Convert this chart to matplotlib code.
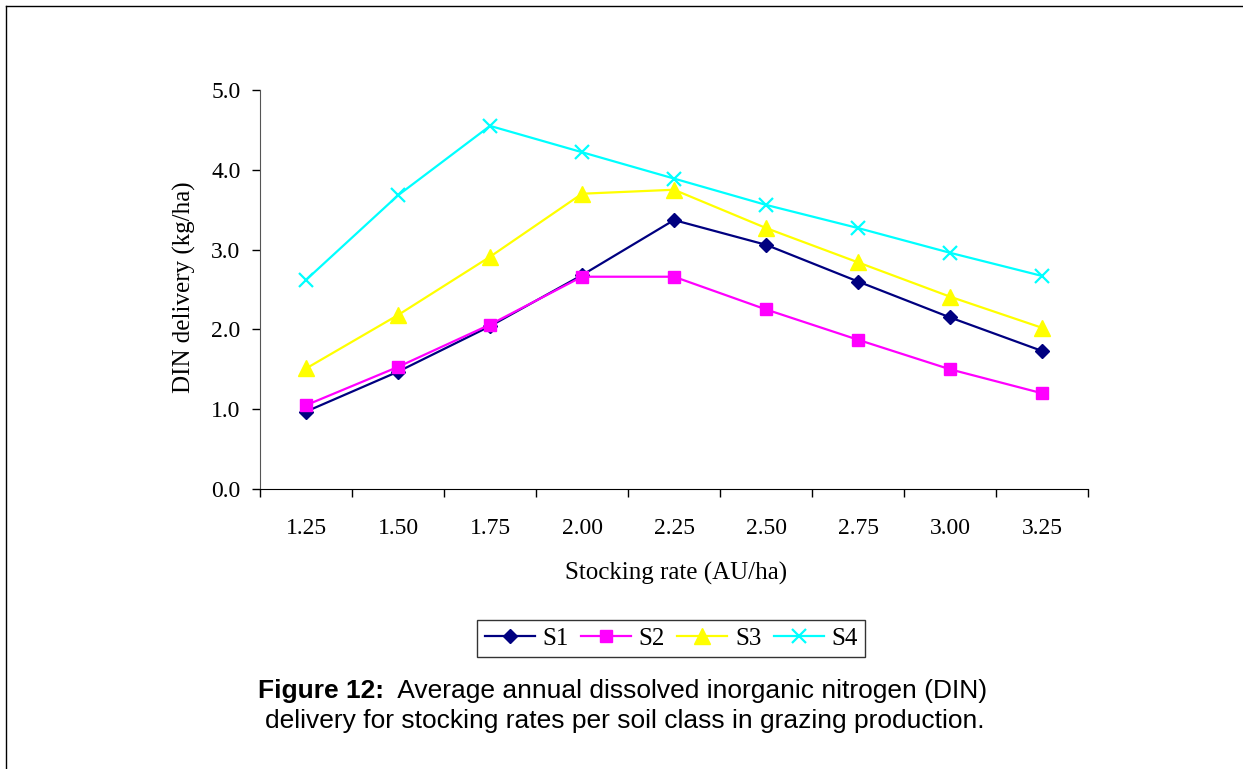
import matplotlib
matplotlib.use("Agg")
import matplotlib.pyplot as plt
from matplotlib.lines import Line2D

# Stocking rate categories and DIN delivery (kg/ha) per soil class
rates = ["1.25", "1.50", "1.75", "2.00", "2.25", "2.50", "2.75", "3.00", "3.25"]
s1 = [0.97, 1.47, 2.04, 2.68, 3.37, 3.06, 2.60, 2.15, 1.73]
s2 = [1.05, 1.53, 2.06, 2.66, 2.66, 2.25, 1.87, 1.50, 1.20]
s3 = [1.51, 2.18, 2.91, 3.70, 3.75, 3.27, 2.84, 2.41, 2.02]
s4 = [2.62, 3.68, 4.55, 4.22, 3.89, 3.56, 3.27, 2.96, 2.67]
yticks = [0.0, 1.0, 2.0, 3.0, 4.0, 5.0]

SERIF = "Liberation Serif"
SANS = "Liberation Sans"

fig = plt.figure(figsize=(12.43, 7.69), dpi=100)
ax = fig.add_axes([0.2092, 0.3641, 0.8753 - 0.2092, 0.8830 - 0.3641])

x = list(range(len(rates)))
ax.plot(x, s1, color="#000080", marker="D", markersize=7.5, linewidth=1.6, label="S1")
ax.plot(x, s2, color="#FF00FF", marker="s", markersize=8.5, linewidth=1.6, label="S2")
ax.plot(x, s3, color="#FFFF00", marker="^", markersize=11, linewidth=1.6, label="S3")
ax.plot(x, s4, color="#00FFFF", marker="x", markersize=10, markeredgewidth=1.6,
        linewidth=1.6, label="S4")

ax.set_xlim(-0.5, len(rates) - 0.5)
ax.set_ylim(0, 5)
ax.set_yticks(yticks)
ax.set_yticklabels([f"{v:.1f}" for v in yticks], fontfamily=SERIF, fontsize=17)
ax.set_xticks(x)
ax.set_xticklabels(rates, fontfamily=SERIF, fontsize=17)
ax.set_xticks([i - 0.5 for i in range(len(rates) + 1)], minor=True)
ax.tick_params(axis="x", which="major", length=0, pad=21)
ax.tick_params(axis="x", which="minor", length=6, direction="out", width=1)
ax.tick_params(axis="y", length=6, direction="out", width=1, pad=8)

ax.spines["top"].set_visible(False)
ax.spines["right"].set_visible(False)
ax.spines["left"].set_color("#555555")

ax.set_xlabel("Stocking rate (AU/ha)", fontfamily=SERIF, fontsize=18)
ax.set_ylabel("DIN delivery (kg/ha)", fontfamily=SERIF, fontsize=18)
ax.xaxis.set_label_coords(0.502, -0.183)
ax.yaxis.set_label_coords(-0.077, 0.505)

leg = fig.legend(loc="center", bbox_to_anchor=(0.540, 0.170), ncol=4,
                 prop={"family": SERIF, "size": 18}, frameon=True, fancybox=False,
                 handlelength=2.0, columnspacing=0.5, handletextpad=0.3,
                 borderpad=0.3, borderaxespad=0)
leg.get_frame().set_edgecolor("black")
leg.get_frame().set_linewidth(1)

# caption with bold prefix
fig.canvas.draw()
renderer = fig.canvas.get_renderer()
t1 = fig.text(258 / 1243, 1 - 691 / 769, "Figure 12:", fontfamily=SANS,
              fontweight="bold", fontsize=19, ha="left", va="center")
bb = t1.get_window_extent(renderer)
fig.text(bb.x1 / fig.bbox.width, 1 - 691 / 769,
         "  Average annual dissolved inorganic nitrogen (DIN)",
         fontfamily=SANS, fontsize=19, ha="left", va="center")
fig.text(625 / 1243, 1 - 721 / 769,
         "delivery for stocking rates per soil class in grazing production.",
         fontfamily=SANS, fontsize=19, ha="center", va="center")

# page border (top and left)
fig.add_artist(Line2D([6 / 1243, 1], [1 - 6 / 769, 1 - 6 / 769],
                      transform=fig.transFigure, color="black", linewidth=1))
fig.add_artist(Line2D([6 / 1243, 6 / 1243], [0, 1 - 6 / 769],
                      transform=fig.transFigure, color="black", linewidth=1))

fig.savefig("out.png", dpi=100)
